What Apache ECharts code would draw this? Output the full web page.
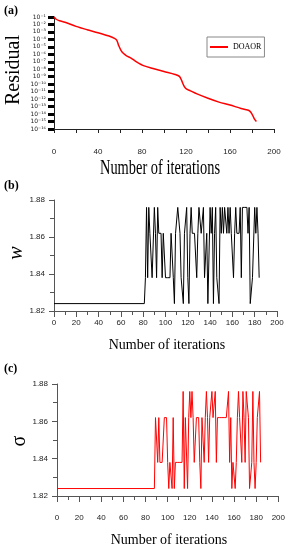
<!DOCTYPE html>
<html><head><meta charset="utf-8">
<script src="https://cdn.jsdelivr.net/npm/echarts@6/dist/echarts.min.js"></script>
<style>html,body{margin:0;padding:0;background:#fff}#c{width:288px;height:550px}</style>
</head><body><div id="c"></div>
<script>
// (a) residual vs iterations
const residualX = [0,2,5,10,20,30,40,50,55,57,59,61,63,66,70,75,82,90,100,110,114,116,118,120,124,130,140,150,160,170,176,178,180,182,184];
const residualY = [1e-1,5e-2,3.2e-2,2e-2,5.6e-3,2e-3,7.9e-4,2.8e-4,1.4e-4,7.9e-5,1.3e-5,3.2e-6,1.4e-6,6.3e-7,3.2e-7,1e-7,2.8e-8,1.3e-8,5e-9,2e-9,1.1e-9,3.2e-10,6.3e-11,2.5e-11,1.3e-11,5e-12,1.3e-12,4e-13,1.6e-13,5.6e-14,3.5e-14,2.5e-14,1e-14,2.5e-15,1e-15];
// (b) w vs iterations
const wX = [0,81,82,83,84,85,86,87,88,89,90,91,92,93,94,95,96,97,98,99,100,101,102,103,104,105,106,107,108,109,110,111,112,113,114,115,116,117,118,119,120,121,122,123,124,125,126,127,128,129,130,131,132,133,134,135,136,137,138,139,140,141,142,143,144,145,146,147,148,149,150,151,152,153,154,155,156,157,158,159,160,161,162,163,164,165,166,167,168,169,170,171,172,173,174,175,176,177,178,179,180,181,182,183,184];
const wY = [1.824,1.824,
 1.838,1.876,1.838,1.876,1.862,1.862,1.838,1.838,1.876,1.862,
 1.838,1.876,1.862,1.862,1.862,1.838,1.862,1.862,1.838,1.838,
 1.838,1.838,1.838,1.862,1.862,1.838,1.824,1.862,1.862,1.876,
 1.876,1.862,1.838,1.838,1.824,1.862,1.862,1.876,1.838,1.824,
 1.862,1.876,1.862,1.862,1.862,1.862,1.838,1.862,1.876,1.876,
 1.862,1.862,1.876,1.838,1.838,1.862,1.824,1.824,1.876,1.862,
 1.876,1.824,1.862,1.876,1.838,1.838,1.824,1.876,1.862,1.876,
 1.862,1.876,1.876,1.862,1.876,1.862,1.876,1.862,1.862,1.838,
 1.862,1.876,1.862,1.862,1.862,1.876,1.838,1.876,1.876,1.876,
 1.876,1.876,1.862,1.876,1.824,1.824,1.838,1.838,1.876,1.862,
 1.876,1.862,1.838];
// (c) sigma vs iterations
const sX = [0,88,89,90,91,92,93,94,95,96,97,98,99,100,101,102,103,104,105,106,107,108,109,110,111,112,113,114,115,116,117,118,119,120,121,122,123,124,125,126,127,128,129,130,131,132,133,134,135,136,137,138,139,140,141,142,143,144,145,146,147,148,149,150,151,152,153,154,155,156,157,158,159,160,161,162,163,164,165,166,167,168,169,170,171,172,173,174,175,176,177,178,179,180,181,182,183,184];
const sY = [1.824,1.824,
 1.862,1.862,1.838,1.862,1.838,1.838,1.838,1.838,1.862,1.862,
 1.862,1.838,1.824,1.838,1.838,1.824,1.862,1.824,1.838,1.838,
 1.838,1.838,1.838,1.838,1.838,1.876,1.824,1.862,1.862,1.824,
 1.862,1.876,1.862,1.876,1.862,1.838,1.838,1.862,1.862,1.862,
 1.838,1.824,1.862,1.862,1.838,1.862,1.876,1.862,1.838,1.862,
 1.862,1.876,1.862,1.862,1.876,1.838,1.862,1.862,1.862,1.862,
 1.862,1.862,1.862,1.862,1.862,1.862,1.876,1.838,1.862,1.824,
 1.838,1.838,1.824,1.838,1.862,1.876,1.862,1.862,1.838,1.876,
 1.862,1.838,1.876,1.876,1.862,1.824,1.824,1.838,1.876,1.838,
 1.824,1.838,1.862,1.862,1.876,1.838];

const serif = 'Liberation Serif';
const sans = 'Liberation Sans';
const supMap = {'-':'\u207B','0':'\u2070','1':'\u00B9','2':'\u00B2','3':'\u00B3','4':'\u2074','5':'\u2075','6':'\u2076','7':'\u2077','8':'\u2078','9':'\u2079'};
function pow10(v){const e=Math.round(Math.log10(v));return '10'+String(e).split('').map(c=>supMap[c]).join('');}
const zip=(xs,ys)=>xs.map((x,i)=>[x,ys[i]]);

const chart = echarts.init(document.getElementById('c'));
const gray='#555';
function bcX(idx,margin){return {gridIndex:idx,type:'value',min:0,max:200,interval:20,
  axisLine:{lineStyle:{color:gray,width:1}},
  axisTick:{show:true,length:6,lineStyle:{color:gray}},
  minorTick:{show:true,splitNumber:2,length:4,lineStyle:{color:gray}},
  splitLine:{show:false},
  axisLabel:{fontFamily:sans,fontSize:8,color:'#222',margin:margin}};}
function bcY(idx){return {gridIndex:idx,type:'value',min:1.82,max:1.88,interval:0.02,
  axisLine:{show:true,lineStyle:{color:gray,width:1}},
  axisTick:{show:true,length:5,lineStyle:{color:gray}},
  minorTick:{show:true,splitNumber:2,length:4,lineStyle:{color:gray}},
  splitLine:{show:false},
  axisLabel:{fontFamily:sans,fontSize:8,color:'#222',margin:9,formatter:v=>v.toFixed(2)}};}

chart.setOption({
  animation:false,
  grid:[{left:54,top:17,width:220,height:112},{left:54,top:200,width:223,height:111},{left:57,top:384,width:222,height:112}],
  legend:{data:['DOAOR'],left:207,top:37,orient:'vertical',borderColor:'#888',borderWidth:1,padding:[6,3,6,3],
    itemWidth:18,itemHeight:2,icon:'rect',itemGap:4,
    textStyle:{fontFamily:serif,fontSize:8,color:'#000'}},
  xAxis:[
    {gridIndex:0,type:'value',min:0,max:200,interval:40,
     axisLine:{lineStyle:{color:'#222'}},
     axisTick:{length:4,lineStyle:{color:'#222'}},
     minorTick:{show:true,splitNumber:2,length:4,lineStyle:{color:'#222'}},
     splitLine:{show:false},
     axisLabel:{fontFamily:sans,fontSize:8,color:'#222',margin:19}},
    bcX(1,8),bcX(2,18)],
  yAxis:[
    {gridIndex:0,type:'log',logBase:10,min:1e-16,max:1e-1,interval:1,
     axisLine:{show:true,lineStyle:{color:'#222'}},
     axisTick:{show:true,length:6,lineStyle:{color:'#000',width:3}},
     splitLine:{show:false},
     axisLabel:{fontFamily:'DejaVu Sans',fontSize:6,color:'#222',margin:8,formatter:pow10}},
    bcY(1),bcY(2)],
  series:[
    {name:'DOAOR',type:'line',xAxisIndex:0,yAxisIndex:0,data:zip(residualX,residualY),smooth:0.3,showSymbol:false,
     lineStyle:{color:'#ff0000',width:1.5},itemStyle:{color:'#ff0000'}},
    {name:'w',type:'line',xAxisIndex:1,yAxisIndex:1,data:zip(wX,wY),showSymbol:false,
     lineStyle:{color:'#000',width:1},itemStyle:{color:'#000'}},
    {name:'sigma',type:'line',xAxisIndex:2,yAxisIndex:2,data:zip(sX,sY),showSymbol:false,
     lineStyle:{color:'#ff0000',width:1},itemStyle:{color:'#ff0000'}}
  ],
  graphic:[
    {type:'text',x:4,y:5,style:{text:'(a)',fontFamily:serif,fontWeight:'bold',fontSize:12,fill:'#000'}},
    {type:'text',x:4,y:180,style:{text:'(b)',fontFamily:serif,fontWeight:'bold',fontSize:12,fill:'#000'}},
    {type:'text',x:4,y:363,style:{text:'(c)',fontFamily:serif,fontWeight:'bold',fontSize:12,fill:'#000'}},
    {type:'text',x:160,y:169,scaleX:0.72,style:{text:'Number of iterations',fontFamily:serif,fontSize:20,fill:'#000',textAlign:'center',textVerticalAlign:'middle'}},
    {type:'text',x:14,y:70,rotation:Math.PI/2,style:{text:'Residual',fontFamily:serif,fontSize:20,fill:'#000',textAlign:'center',textVerticalAlign:'middle'}},
    {type:'text',x:167,y:345,style:{text:'Number of iterations',fontFamily:serif,fontSize:14,fill:'#000',textAlign:'center',textVerticalAlign:'middle'}},
    {type:'text',x:17,y:253,rotation:Math.PI/2,style:{text:'w',fontFamily:serif,fontStyle:'italic',fontSize:20,fill:'#000',textAlign:'center',textVerticalAlign:'middle'}},
    {type:'text',x:169,y:540,style:{text:'Number of iterations',fontFamily:serif,fontSize:14,fill:'#000',textAlign:'center',textVerticalAlign:'middle'}},
    {type:'text',x:20,y:441,rotation:Math.PI/2,style:{text:'\u03C3',fontFamily:serif,fontSize:20,fill:'#000',textAlign:'center',textVerticalAlign:'middle'}}
  ]
});
</script></body></html>
